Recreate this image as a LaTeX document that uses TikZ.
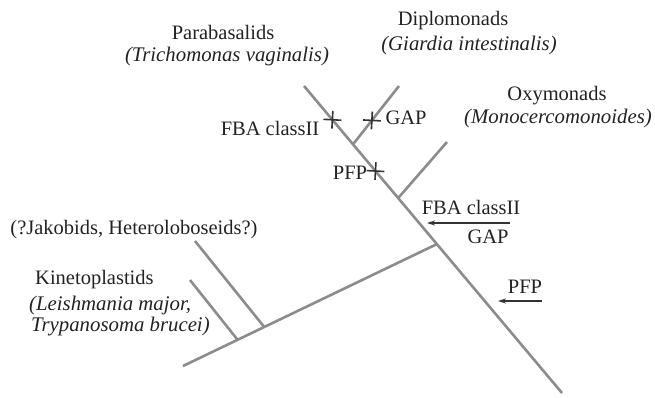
\documentclass[tikz,border=0pt]{standalone}
\usepackage{fontspec}
\setmainfont{Liberation Serif}
\usetikzlibrary{arrows.meta,shapes.misc,calc}
\definecolor{branchgray}{HTML}{8C8C8C}
\definecolor{markdark}{HTML}{333333}
\definecolor{textdark}{HTML}{222222}
\tikzset{
  branch/.style={draw=branchgray,line width=2.6pt,line cap=butt},
  lbl/.style={inner sep=0pt,text=textdark,font=\fontsize{20.5}{24}\selectfont},
  lblit/.style={lbl,font=\fontsize{20.8}{24}\selectfont\itshape},
  crossmark/.style={draw=markdark,cross out,line width=1.6pt,minimum size=11pt,inner sep=0pt,rotate=42},
  transfer/.style={draw=markdark,line width=1.8pt,-{Stealth[length=8pt,width=5pt]}}
}
\begin{document}
\begin{tikzpicture}[x=1pt,y=-1pt]
\useasboundingbox (0,0) rectangle (655,398);
% trunk and branches
\coordinate (T1) at (304,86);
\coordinate (T2) at (562,393);
\coordinate (JD) at ($(T1)!0.19!(T2)$);
\coordinate (DT) at (399,86);
\coordinate (JO) at ($(T1)!0.365!(T2)$);
\coordinate (OT) at (447,142);
\coordinate (JK) at ($(T1)!0.515!(T2)$);
\coordinate (KE) at (183,366);
\coordinate (JJ) at ($(JK)!0.68!(KE)$);
\coordinate (JT) at (195,241);
\coordinate (JKi) at ($(JK)!0.785!(KE)$);
\coordinate (KT) at (190,280);
\draw[branch] (T1) -- (T2);
\draw[branch] (JD) -- (DT);
\draw[branch] (JO) -- (OT);
\draw[branch] (JK) -- (KE);
\draw[branch] (JJ) -- (JT);
\draw[branch] (JKi) -- (KT);
% loss marks
\node[crossmark] (xF) at ($(T1)!0.11!(T2)$) {};
\node[crossmark] (xP) at ($(T1)!0.277!(T2)$) {};
\node[crossmark] (xG) at ($(JD)!0.41!(DT)$) {};
% labels
\node[lbl] (para) at (223,32) {Parabasalids};
\node[lblit] (trich) at (227,56) {(Trichomonas vaginalis)};
\node[lbl] (diplo) at (453,21) {Diplomonads};
\node[lblit] (giar) at (469,45) {(Giardia intestinalis)};
\node[lbl] (oxy) at (557,96) {Oxymonads};
\node[lblit] (mono) at (558,118) {(Monocercomonoides)};
\node[lbl] (fba1) at (270,128) {FBA classII};
\node[lbl] (gap1) at (406,118) {GAP};
\node[lbl] (pfp1) at (350,173) {PFP};
\node[lbl] (fba2) at (471,207) {FBA classII};
\node[lbl] (gap2) at (488,237) {GAP};
\node[lbl] (pfp2) at (525,287) {PFP};
\node[lbl] (jako) at (134,230) {(?Jakobids, Heteroloboseids?)};
\node[lbl,anchor=west] (kine) at (35,280) {Kinetoplastids};
\node[lblit,anchor=west] (leish) at (29,305) {(Leishmania major,};
\node[lblit,anchor=west] (tryp) at (31,327) {Trypanosoma brucei)};
% transfer arrows
\coordinate (A1s) at (510,223);
\coordinate (A1e) at (427,223);
\coordinate (A2s) at (542,301);
\coordinate (A2e) at (498,301);
\draw[transfer] (A1s) -- (A1e);
\draw[transfer] (A2s) -- (A2e);
\end{tikzpicture}
\end{document}
